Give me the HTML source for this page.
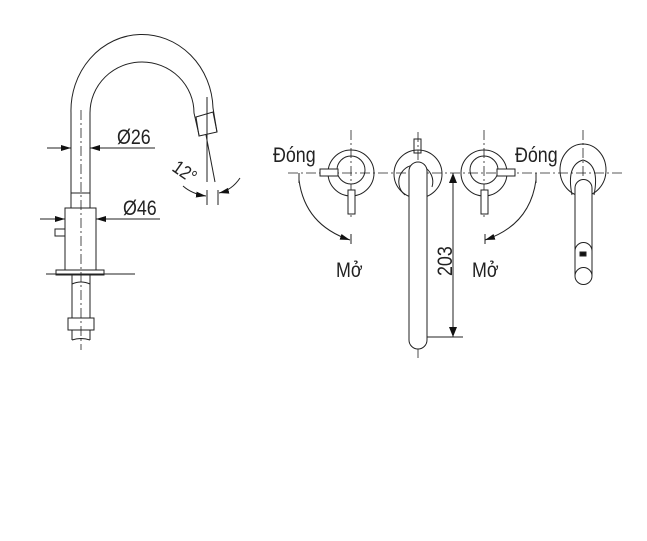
<!DOCTYPE html>
<html><head><style>html,body{margin:0;padding:0;background:#fff;}svg{display:block}</style></head>
<body>
<svg width="647" height="541" viewBox="0 0 647 541" xmlns="http://www.w3.org/2000/svg" font-family="'Liberation Sans', sans-serif" fill="none" stroke="#222" stroke-width="1">
<defs>
<marker id="a" markerWidth="10" markerHeight="6" refX="10" refY="3" orient="auto" markerUnits="userSpaceOnUse"><path d="M0,0 L10,3 L0,6z" fill="#111" stroke="none"/></marker>
</defs>
<!-- LEFT FAUCET -->
<path d="M71,193 L71,113 A71,76 0 0 1 213,108 L217,132"/>
<path d="M90,193 L90,113 A52,51 0 0 1 194,113 L199,135"/>
<path d="M196,117 L213,112 L217,132 L199,136 Z"/>
<line x1="71" y1="193" x2="90" y2="193"/>
<line x1="71" y1="193" x2="71" y2="208"/><line x1="90" y1="193" x2="90" y2="208"/>
<rect x="65" y="208" width="31" height="62"/>
<rect x="55" y="229" width="10" height="7"/>
<rect x="56" y="270" width="48" height="5"/>
<line x1="46" y1="274" x2="135" y2="274"/>
<path d="M72,275 L72,318 M90,275 L90,318 M72,284 Q81,280 90,284"/>
<rect x="68" y="318" width="26" height="12"/>
<path d="M72,330 L72,340 M90,330 L90,340 M72,340 Q81,337 90,340"/>
<line x1="81" y1="110" x2="81" y2="350" stroke-dasharray="10,3,2,3" stroke-width="0.8"/>
<!-- dims left -->
<line x1="47" y1="148" x2="71" y2="148" marker-end="url(#a)"/>
<line x1="155" y1="148" x2="90" y2="148" marker-end="url(#a)"/>
<text x="0" y="0" font-size="21" fill="#222" stroke="none" transform="translate(117,144) scale(0.85,1)">Ø26</text>
<line x1="40" y1="219" x2="65" y2="219" marker-end="url(#a)"/>
<line x1="160" y1="219" x2="96" y2="219" marker-end="url(#a)"/>
<text x="0" y="0" font-size="21" fill="#222" stroke="none" transform="translate(123,215) scale(0.85,1)">Ø46</text>
<line x1="207" y1="97" x2="207" y2="182"/>
<line x1="206" y1="135" x2="215" y2="182"/>
<line x1="207" y1="190" x2="207" y2="205"/><line x1="218" y1="190" x2="218" y2="205"/>
<path d="M183,186 Q192,194 206,196" marker-end="url(#a)"/>
<path d="M240,178 Q232,190 219,193" marker-end="url(#a)"/>
<text x="0" y="0" font-size="19" fill="#222" stroke="none" transform="translate(171,170) rotate(35) scale(0.85,1)">12°</text>
<!-- RIGHT -->
<line x1="288" y1="173" x2="625" y2="173" stroke-dasharray="10,3,2,3" stroke-width="0.8"/>
<line x1="351" y1="130" x2="351" y2="220" stroke-dasharray="10,3,2,3" stroke-width="0.8"/>
<circle cx="351" cy="173" r="23"/><circle cx="351" cy="170" r="14"/>
<rect x="320" y="169" width="18" height="7" fill="#fff"/>
<rect x="348" y="190" width="7" height="24" fill="#fff"/>
<line x1="484" y1="130" x2="484" y2="220" stroke-dasharray="10,3,2,3" stroke-width="0.8"/>
<circle cx="484" cy="173" r="23"/><circle cx="484" cy="170" r="14"/>
<rect x="497" y="169" width="18" height="7" fill="#fff"/>
<rect x="481" y="190" width="7" height="24" fill="#fff"/>
<line x1="418" y1="132" x2="418" y2="360" stroke-dasharray="10,3,2,3" stroke-width="0.8"/>
<circle cx="418" cy="174" r="24"/>
<path d="M405,195 A17,17 0 1 1 432,187"/>
<rect x="414" y="139" width="7" height="14"/>
<path d="M409,340 L409,171 A9,9 0 0 1 427,171 L427,340 A9,9 0 0 1 409,340 Z" fill="#fff"/>
<line x1="453" y1="173" x2="453" y2="337"/>
<path d="M449,183 L453,173 L457,183Z M449,327 L453,337 L457,327Z" fill="#111" stroke="none"/>
<line x1="427" y1="337" x2="463" y2="337"/>
<text x="0" y="0" font-size="21" fill="#222" stroke="none" transform="translate(452,276) rotate(-90) scale(0.85,1)">203</text>
<line x1="583" y1="130" x2="583" y2="280" stroke-dasharray="10,3,2,3" stroke-width="0.8"/>
<ellipse cx="583" cy="170" rx="23" ry="26"/>
<path d="M572,195 Q566,165 583,160 Q600,165 594,195"/>
<path d="M575,276 L575,188 A8.5,8.5 0 0 1 592,188 L592,276" fill="#fff"/>
<path d="M575,251 A8.5,8.5 0 0 1 592,251"/>
<circle cx="583.5" cy="276" r="8.5" fill="#fff"/>
<rect x="580" y="252" width="6" height="4" fill="#111"/>
<path d="M299,180 Q305,225 350,240" marker-end="url(#a)"/>
<line x1="299" y1="173" x2="299" y2="183"/>
<line x1="351" y1="234" x2="351" y2="244"/>
<path d="M536,180 Q530,225 485,240" marker-end="url(#a)"/>
<line x1="536" y1="173" x2="536" y2="183"/>
<line x1="485" y1="234" x2="485" y2="244"/>
<g fill="#222" stroke="none" font-size="21">
<text x="0" y="0" transform="translate(273,162) scale(0.85,1)">Đóng</text>
<text x="0" y="0" transform="translate(515,162) scale(0.85,1)">Đóng</text>
<text x="0" y="0" transform="translate(336,277) scale(0.85,1)">Mở</text>
<text x="0" y="0" transform="translate(472,277) scale(0.85,1)">Mở</text>
</g>
</svg>
</body></html>
